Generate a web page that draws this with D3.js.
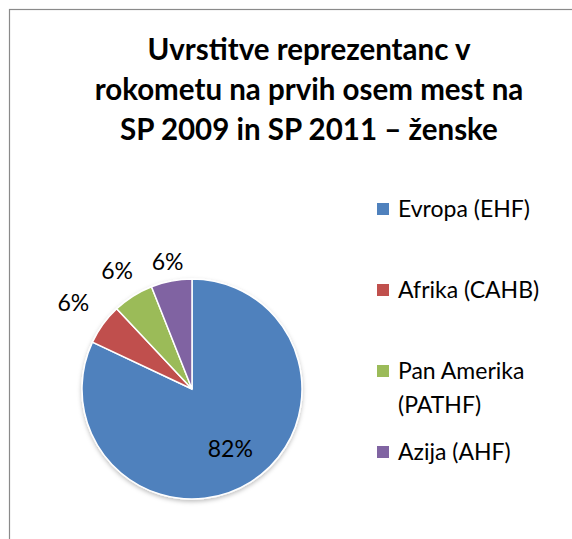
<!DOCTYPE html>
<html>
<head>
<meta charset="utf-8">
<script src="https://cdn.jsdelivr.net/npm/d3@7"></script>
<style>
  body { margin: 0; background: #fff; }
  svg { display: block; }
  text { font-family: Lato, "Open Sans", sans-serif; fill: #000; }
</style>
</head>
<body>
<div id="chart"></div>
<script>
// data
var titleLines = ["Uvrstitve  reprezentanc v", "rokometu na prvih osem mest na", "SP 2009 in SP 2011 \u2013 \u017eenske"];
var categories = ["Evropa (EHF)", "Afrika (CAHB)", "Pan Amerika (PATHF)", "Azija (AHF)"];
var legendLines = [["Evropa (EHF)"], ["Afrika (CAHB)"], ["Pan Amerika", "(PATHF)"], ["Azija (AHF)"]];
var shares = [82, 6, 6, 6];
var colors = ["#4F81BD", "#C0504D", "#9BBB59", "#8064A2"];

var width = 572, height = 539;
var cx = 192, cy = 389, radius = 110;

var svg = d3.select("#chart").append("svg")
    .attr("width", width)
    .attr("height", height);

// chart area frame (runs off the right and bottom edge)
svg.append("rect")
    .attr("x", 9.5).attr("y", 9.5)
    .attr("width", 700).attr("height", 700)
    .attr("fill", "#fff")
    .attr("stroke", "#8a8a8a")
    .attr("stroke-width", 1.2);

var defs = svg.append("defs");
var shadow = defs.append("filter").attr("id", "shadow")
    .attr("x", "-20%").attr("y", "-20%").attr("width", "140%").attr("height", "140%");
shadow.append("feDropShadow")
    .attr("dx", 0).attr("dy", 2).attr("stdDeviation", 2)
    .attr("flood-color", "#000").attr("flood-opacity", 0.25);

// title
var title = svg.append("text")
    .attr("text-anchor", "middle")
    .style("font-weight", "bold")
    .style("font-size", "29.5px");
title.selectAll("tspan")
    .data(titleLines)
    .enter().append("tspan")
      .attr("x", 309)
      .attr("y", function(d, i) { return 60 + i * 40; })
      .text(function(d) { return d; });

// pie
var pie = d3.pie().sort(null).value(function(d) { return d; });
var arcs = pie(shares);
var arc = d3.arc().innerRadius(0).outerRadius(radius);

var g = svg.append("g").attr("transform", "translate(" + cx + "," + cy + ")");

g.append("g").attr("filter", "url(#shadow)")
  .selectAll("path")
  .data(arcs)
  .enter().append("path")
    .attr("d", arc)
    .attr("fill", function(d, i) { return colors[i]; })
    .attr("stroke", "#fff")
    .attr("stroke-width", 1.5);

// data labels: big slice inside, small ones just outside the rim
var fmt = function(v) { return d3.format(".0%")(v / d3.sum(shares)); };
g.selectAll(".lbl")
  .data(arcs)
  .enter().append("text")
    .attr("class", "lbl")
    .attr("text-anchor", "middle")
    .attr("dy", "0.35em")
    .style("font-size", "23px")
    .attr("transform", function(d) {
      var a = (d.startAngle + d.endAngle) / 2;
      var s = Math.abs(Math.sin(a)), c = Math.abs(Math.cos(a));
      var r = (d.endAngle - d.startAngle) > Math.PI ? radius * 0.65 : radius + 6 + 32 * s + 8 * c;
      return "translate(" + (Math.sin(a) * r) + "," + (-Math.cos(a) * r) + ")";
    })
    .text(function(d) { return fmt(d.value); });

// legend
var legend = svg.append("g").attr("transform", "translate(377,0)");
var item = legend.selectAll(".item")
    .data(categories)
    .enter().append("g")
      .attr("class", "item")
      .attr("transform", function(d, i) { return "translate(0," + (209 + i * 81) + ")"; });

item.append("rect")
    .attr("x", 0).attr("y", -6)
    .attr("width", 12).attr("height", 12)
    .attr("fill", function(d, i) { return colors[i]; });

item.append("text")
    .style("font-size", "23px")
    .selectAll("tspan")
    .data(function(d, i) { return legendLines[i]; })
    .enter().append("tspan")
      .attr("x", 21)
      .attr("y", function(d, j) { return 8 + j * 34; })
      .text(function(d) { return d; });
</script>
</body>
</html>
